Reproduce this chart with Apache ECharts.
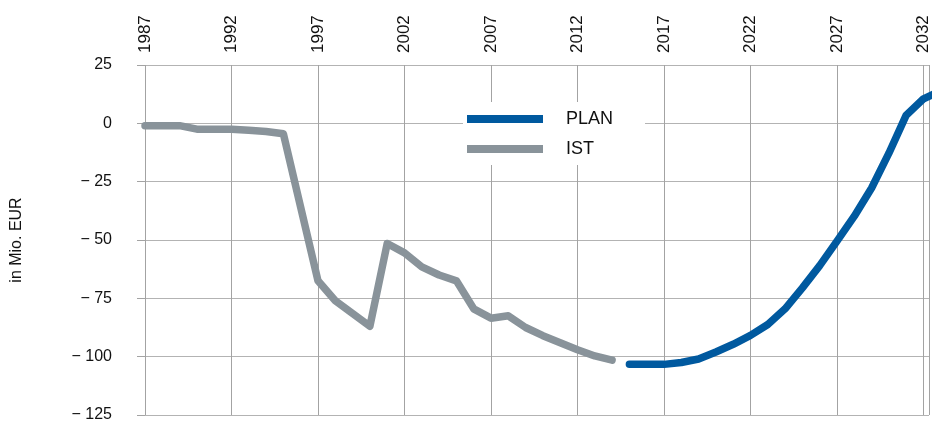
<!DOCTYPE html>
<html>
<head>
<meta charset="utf-8">
<script src="https://cdn.jsdelivr.net/npm/echarts@6/dist/echarts.min.js"></script>
<style>
  html, body { margin: 0; padding: 0; background: #fff; }
  #chart { width: 932px; height: 423px; }
</style>
</head>
<body>
<div id="chart"></div>
<script>
// ---- data ----
const baseYear = 1987;
const istYears = [1987, 1988, 1989, 1990, 1991, 1992, 1993, 1994, 1995, 1996,
                  1997, 1998, 1999, 2000, 2001, 2002, 2003, 2004, 2005, 2006,
                  2007, 2008, 2009, 2010, 2011, 2012, 2013, 2014];
const istValues = [-1, -1, -1, -2.5, -2.5, -2.5, -3, -3.5, -4.5, -36,
                   -67.5, -76, -81.5, -87, -51.5, -55.5, -61.5, -65, -67.5, -79.5,
                   -83.5, -82.5, -87.5, -91, -94, -97, -99.7, -101.5];
const planYears = [2015, 2016, 2017, 2018, 2019, 2020, 2021, 2022, 2023, 2024,
                   2025, 2026, 2027, 2028, 2029, 2030, 2031, 2032, 2033];
const planValues = [-103.3, -103.3, -103.3, -102.5, -101, -98, -94.7, -90.9, -86.2, -79.5,
                    -70.5, -61, -50.5, -39.8, -27.7, -12.8, 3.5, 10.5, 14];
const yTicks = { min: -125, max: 25, step: 25 };
const xStep = 5;
const legendNames = ['PLAN', 'IST'];
const yAxisTitle = 'in Mio. EUR';

// ---- chart ----
const FONT = '"Liberation Sans", Arial, sans-serif';
const BLUE = '#00599f';
const GRAY = '#89939a';

const chart = echarts.init(document.getElementById('chart'), null, { renderer: 'canvas' });

const toPairs = (xs, ys) => xs.map((x, i) => [x - baseYear, ys[i]]);

chart.setOption({
  animation: false,
  backgroundColor: '#ffffff',
  grid: { left: 145, right: 0, top: 65, bottom: 5, containLabel: false },
  legend: {
    data: [
      { name: legendNames[0], itemStyle: { color: BLUE } },
      { name: legendNames[1], itemStyle: { color: GRAY } }
    ],
    orient: 'vertical',
    left: 463,
    top: 102,
    icon: 'rect',
    itemWidth: 76,
    itemHeight: 8,
    itemGap: 12,
    padding: [8, 32, 7, 4],
    backgroundColor: '#ffffff',
    selectedMode: false,
    textStyle: { fontFamily: FONT, fontSize: 18, color: '#111', padding: [0, 0, 0, 18] }
  },
  xAxis: {
    type: 'value',
    position: 'top',
    min: 0,
    max: 45.32,
    interval: xStep,
    axisLine: { show: false },
    axisTick: { show: false },
    splitLine: { show: true, lineStyle: { color: '#a3a3a3', width: 1 } },
    axisLabel: {
      rotate: 90,
      margin: 12,
      fontFamily: FONT,
      fontSize: 17,
      color: '#111',
      showMaxLabel: false,
      formatter: v => (Math.abs(v % xStep) < 1e-9 ? String(baseYear + v) : '')
    }
  },
  yAxis: {
    type: 'value',
    min: yTicks.min,
    max: yTicks.max,
    interval: yTicks.step,
    name: yAxisTitle,
    nameLocation: 'middle',
    nameGap: 120,
    nameRotate: 90,
    nameTextStyle: { fontFamily: FONT, fontSize: 16, color: '#111' },
    axisLine: { show: false },
    axisTick: { show: true, length: 8, inside: false, lineStyle: { color: '#a3a3a3' } },
    splitLine: { show: true, lineStyle: { color: '#b3b3b3', width: 1 } },
    axisLabel: {
      margin: 33,
      fontFamily: FONT,
      fontSize: 16,
      color: '#111',
      formatter: v => (v < 0 ? '\u2212 ' + Math.abs(v) : String(v))
    }
  },
  series: [
    {
      name: legendNames[1],
      type: 'line',
      data: toPairs(istYears, istValues),
      symbol: 'none',
      color: GRAY,
      lineStyle: { color: GRAY, width: 7.5, cap: 'round', join: 'round' },
      clip: true,
      z: 3
    },
    {
      name: legendNames[0],
      type: 'line',
      data: toPairs(planYears, planValues),
      symbol: 'none',
      color: BLUE,
      lineStyle: { color: BLUE, width: 7.5, cap: 'round', join: 'round' },
      clip: true,
      z: 3
    }
  ]
});
</script>
</body>
</html>
